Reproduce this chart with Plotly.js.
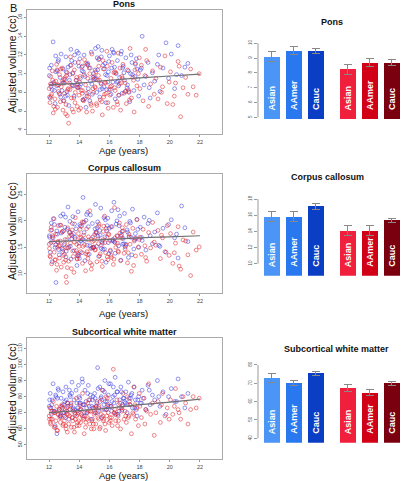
<!DOCTYPE html>
<html><head><meta charset="utf-8">
<script src="https://cdn.plot.ly/plotly-3.0.1.min.js"></script>
<style>html,body{margin:0;padding:0;background:#fff}#chart{width:401px;height:481px}</style>
</head><body><div id="chart"></div>
<script>
// ---------- scatter data (ages shared across panels) ----------
const blueAge = [12.02,12.08,12.15,12.21,12.27,12.33,12.4,12.46,12.52,12.6,12.67,12.73,12.8,12.86,12.93,12.99,
13.05,13.12,13.18,13.26,13.31,13.38,13.45,13.52,13.58,13.66,13.72,13.79,13.85,13.92,13.98,
14.04,14.11,14.19,14.25,14.32,14.38,14.45,14.53,14.6,14.66,14.74,14.8,14.87,14.95,
15.02,15.08,15.16,15.22,15.29,15.36,15.43,15.5,15.57,15.64,15.7,15.78,15.85,15.93,
16.0,16.07,16.15,16.23,16.3,16.38,16.45,16.53,16.61,16.68,16.76,16.84,16.92,
17.0,17.09,17.17,17.26,17.35,17.44,17.53,17.62,17.72,17.83,17.94,
18.05,18.17,18.3,18.42,18.56,18.7,18.85,
19.0,19.18,19.35,19.55,19.75,19.92,
20.1,20.32,20.55,20.78,21.0,21.2,
12.12,12.55,12.9,13.22,13.5,13.88,14.28,14.7,15.12,15.46,15.82,16.18,16.5,16.88,17.3,17.68,
12.04,12.36,12.63,12.97,13.09,13.41,13.62,13.95,14.08,14.35,14.56,14.83,15.05,15.25,15.53,15.74,15.96,16.11,16.34,16.57,16.8,17.05,17.4,17.78,
12.18,12.44,12.77,13.14,13.35,13.69,14.01,14.22,14.49,14.91,15.19,15.39,15.67,15.89,16.26,16.64,16.96,17.2,17.49,17.88,18.12,18.64,19.27,20.45];
const redAge = [12.01,12.06,12.11,12.17,12.22,12.28,12.34,12.39,12.45,12.5,12.56,12.62,12.69,12.75,12.81,12.87,12.92,12.97,12.14,12.64,
13.02,13.07,13.13,13.19,13.24,13.3,13.36,13.42,13.48,13.55,13.61,13.68,13.74,13.81,13.87,13.94,13.99,13.16,13.53,13.9,
14.03,14.09,14.16,14.22,14.29,14.35,14.42,14.49,14.56,14.63,14.7,14.77,14.84,14.91,14.97,14.2,14.58,14.88,
15.04,15.1,15.17,15.24,15.31,15.39,15.46,15.53,15.6,15.68,15.75,15.83,15.9,15.97,15.27,15.62,15.86,
16.03,16.1,16.18,16.26,16.34,16.42,16.5,16.58,16.66,16.74,16.82,16.9,16.97,16.38,16.7,
17.04,17.12,17.2,17.29,17.37,17.46,17.55,17.64,17.73,17.82,17.92,17.33,17.6,17.98,
18.02,18.12,18.23,18.35,18.47,18.6,18.73,18.86,18.97,18.4,
19.08,19.22,19.38,19.52,19.68,19.83,19.96,19.45,
20.05,20.2,20.38,20.55,20.72,20.88,20.3,20.62,
21.05,21.2,21.38,21.55,21.75,21.95,
12.03,12.24,12.42,12.58,12.78,12.95,13.04,13.21,13.39,13.57,13.72,13.85,14.05,14.25,14.44,14.61,14.8,14.99,15.07,15.29,15.5,15.71,15.92,16.14,16.36,16.6,16.86,17.08,
12.09,12.31,12.53,12.72,12.89,13.1,13.28,13.46,13.65,13.83,13.97,14.13,14.33,14.52,14.73,14.94,15.14,15.35,15.57,15.79,16.06,16.3,16.54,16.78,17.25,17.69];

const ponsBlue = [9.8,7.4,10.9,8.3,13.4,9.1,6.8,10.2,8.7,11.3,7.9,9.6,12.1,8.2,10.5,7.1,
9.4,11.8,8.1,10.7,6.6,9.9,12.6,8.8,10.1,7.6,11.2,9.3,12.4,8.5,10.8,
11.6,8.9,10.3,7.2,12.0,9.7,6.4,11.0,8.4,10.6,9.2,12.3,7.8,10.0,
9.5,12.7,8.0,10.4,11.5,7.5,9.0,12.5,10.9,8.6,11.1,6.9,9.8,10.2,
11.9,8.3,10.6,9.1,12.2,7.3,10.0,11.4,8.7,9.6,12.1,7.9,10.8,
9.3,11.7,8.5,10.3,7.0,12.0,9.9,8.2,11.0,10.5,7.6,
10.4,14.0,8.8,9.7,11.2,7.4,10.1,
9.2,11.0,8.1,10.6,13.3,9.5,
12.1,8.4,13.0,9.8,10.7,11.1,
8.6,10.3,9.0,7.7,11.4,8.9,10.2,7.1,9.4,11.8,8.3,12.6,9.1,10.6,8.0,9.7,
10.6,8.2,11.5,9.0,7.6,10.9,8.7,12.2,9.5,7.3,11.1,8.9,10.4,12.9,8.4,9.9,11.3,7.8,10.7,9.2,12.4,8.1,10.0,11.6,
8.9,11.9,7.5,10.2,9.3,12.0,8.6,10.8,7.9,9.6,11.7,8.3,10.5,9.1,12.3,7.7,10.1,8.8,11.2,9.4,10.6,8.5,12.0,9.9];
const ponsRed = [8.4,6.9,9.7,7.8,10.3,5.8,8.9,7.3,9.2,11.0,6.4,8.1,9.9,7.0,8.6,10.6,6.1,9.4,7.6,8.8,
7.9,9.6,6.7,10.1,8.3,4.7,9.0,11.8,7.4,8.7,5.9,10.4,8.0,9.3,6.5,11.2,7.7,9.8,6.2,8.5,
9.1,6.3,10.7,8.2,7.1,11.5,8.8,5.9,9.5,7.5,10.0,6.8,12.1,8.4,9.7,7.9,10.9,6.0,
8.6,10.2,6.6,9.3,11.6,7.2,8.9,5.6,10.5,7.8,9.0,12.4,6.9,8.3,9.8,7.5,10.8,
7.7,9.5,11.2,6.4,8.5,10.1,7.0,12.2,8.9,6.1,9.7,11.0,7.9,8.2,10.6,
9.0,6.8,10.4,8.1,12.7,7.4,9.6,5.9,11.1,8.7,10.0,7.2,9.3,11.7,
8.4,10.9,7.1,9.8,11.4,6.5,8.9,10.3,7.8,12.6,
9.5,7.3,10.7,8.6,11.9,6.8,9.1,8.0,
10.2,6.7,9.0,11.3,5.4,8.5,7.6,10.8,
9.6,7.8,10.5,8.6,7.7,10.0,
7.5,9.3,6.2,8.8,10.5,7.1,9.0,5.5,8.3,10.0,6.9,8.6,9.7,7.2,11.1,8.0,6.6,9.4,8.5,10.8,7.0,9.1,6.3,8.7,10.2,7.7,9.5,8.1,
8.9,6.5,10.4,7.8,9.2,5.7,8.4,10.9,7.4,9.6,6.1,8.2,9.9,7.6,10.6,8.0,6.8,9.3,11.4,7.9,8.6,10.1,6.7,9.0,8.3,10.4];

const ccBlue = [17.2,14.1,19.6,12.3,16.8,20.4,15.0,8.4,18.1,16.0,13.6,19.2,17.7,14.8,21.3,15.5,
18.8,13.2,16.4,22.6,15.1,19.9,12.8,17.3,20.8,14.4,16.9,18.5,11.6,21.7,15.8,
19.3,16.2,14.0,24.4,17.8,12.5,20.1,15.4,18.9,13.7,21.1,16.6,19.5,14.9,
17.4,23.1,15.2,19.8,13.3,18.2,22.4,16.1,14.6,20.6,17.0,12.2,19.1,15.9,
18.6,14.3,21.9,16.5,23.5,13.9,19.4,17.1,15.3,20.9,12.6,18.0,16.7,
21.4,15.6,18.3,13.1,19.9,16.9,22.2,14.7,17.6,20.3,15.0,
18.8,16.3,20.7,14.5,19.5,17.2,15.7,
17.9,21.5,15.2,18.6,14.1,19.3,
20.2,16.8,13.0,22.8,18.7,16.1,
15.9,17.5,14.2,18.4,16.6,13.5,19.7,15.3,17.9,14.8,18.1,16.3,20.0,15.6,17.0,16.4,
16.9,19.3,14.6,18.1,20.7,15.2,17.6,13.4,19.0,16.3,21.6,14.9,18.5,17.1,15.8,20.2,13.8,18.9,16.0,22.1,17.4,15.1,19.6,16.7,
18.3,15.5,20.9,14.3,17.8,19.4,12.9,16.5,21.2,15.0,18.7,17.3,14.7,20.5,16.2,19.1,15.7,17.9,13.6,18.4,16.9,20.1,15.4,17.5];
const ccRed = [15.6,13.4,18.2,11.9,16.9,20.4,14.1,12.6,17.5,10.7,15.0,19.1,13.0,16.2,11.3,17.9,14.6,12.2,18.8,15.3,
13.7,16.5,9.5,14.9,18.7,12.4,17.1,15.8,11.0,19.5,13.3,16.0,20.6,14.4,12.8,17.6,15.2,8.4,18.3,13.9,
16.8,14.2,19.0,12.0,17.3,15.5,10.6,18.5,13.6,16.4,21.9,14.8,11.7,17.0,15.1,19.8,12.9,16.1,
14.5,17.8,12.3,16.6,19.4,13.8,15.4,11.4,18.0,20.9,14.0,16.9,12.7,17.4,15.7,19.0,13.2,
16.3,13.5,18.9,11.8,22.5,15.0,17.2,14.3,19.6,12.5,16.7,18.1,13.9,15.9,17.7,
14.7,19.3,12.1,17.5,15.6,10.5,18.6,16.2,13.4,20.2,15.1,17.0,11.6,16.5,
16.9,13.7,18.4,15.3,12.4,17.8,14.9,19.7,16.0,13.1,
15.4,18.2,12.9,16.8,14.2,19.1,13.5,17.3,
17.6,12.0,15.8,18.9,10.9,16.4,14.0,11.5,
16.2,13.6,9.7,17.9,14.5,15.1,
14.8,17.2,12.7,16.1,19.2,13.5,15.7,11.2,17.9,14.3,16.6,12.9,18.4,15.2,13.8,17.0,10.9,16.3,14.6,19.0,12.4,15.9,17.6,13.1,16.8,14.1,18.7,15.4,
13.2,16.0,11.8,15.3,18.0,12.6,14.9,17.4,10.3,15.6,13.7,16.9,19.8,14.2,12.1,15.0,17.7,13.4,16.4,18.6,14.5,12.8,15.8,17.1,14.0,16.7];

const swmBlue = [74,82,69,78,88,71,62,80,57,85,72,68,79,74,83,70,
77,86,71,74,66,81,75,89,72,78,69,84,76,73,80,
79,72,91,75,68,84,77,70,87,74,81,66,78,73,
82,70,76,98,73,86,79,67,84,75,90,72,77,81,
74,88,71,80,76,92,69,83,75,78,86,72,79,
77,83,70,89,75,81,73,86,78,68,80,
76,84,79,72,87,75,81,
78,90,74,83,69,80,
85,77,91,80,73,82,
73,79,70,76,82,71,75,78,74,80,72,77,83,75,79,73,
78,71,84,75,67,80,73,87,76,70,82,74,79,85,72,77,88,74,81,69,83,76,79,72,
75,81,68,78,84,72,76,89,73,80,70,77,83,74,86,71,79,75,82,78,76,84,80,77];
const swmRed = [68,73,63,71,66,77,61,70,65,74,59,69,72,64,67,75,62,70,66,71,
65,72,60,69,76,63,68,74,61,67,71,58,66,79,64,70,62,73,67,69,
72,64,69,82,66,75,61,70,67,78,63,71,65,73,60,68,76,66,
70,63,77,67,74,61,69,84,65,72,59,68,75,64,71,66,79,
67,74,62,97,70,65,78,68,73,60,71,82,66,69,76,
71,64,80,68,75,57,70,86,66,73,62,77,69,82,
74,67,79,63,71,88,69,76,56,72,
70,77,64,82,68,73,66,75,
78,69,85,72,66,80,74,70,
76,63,72,80,73,79,
66,71,61,69,74,63,68,58,72,65,70,62,75,67,64,71,60,69,73,66,78,63,70,67,72,65,74,68,
64,70,59,67,73,62,69,76,61,68,65,72,57,66,71,63,74,60,68,80,65,70,62,73,67,75];

// fitted trend lines
const fitAge = [12,14,16,18,20,22];
const ponsFit = [8.8,9.0,9.3,9.55,9.75,9.95];
const ccFit = [16.1,16.3,16.5,16.8,17.0,17.2];
const swmFit = [70.1,71.3,72.9,75.0,76.6,78.5];

// ---------- bar data ----------
const barLabels = ['Asian','AAmer','Cauc','Asian','AAmer','Cauc'];
const barColors = ['#4a95f5','#2a78ef','#0a3ec4','#f01f3b','#d20017','#7a0010'];
const ponsMeans = [9.09,9.5,9.5,8.25,8.7,8.7];
const ponsErr = [0.33,0.28,0.17,0.33,0.3,0.18];
const ccMeans = [15.8,15.8,17.1,14.1,14.1,15.35];
const ccErr = [0.62,0.62,0.35,0.64,0.6,0.3];
const swmMeans = [72.9,70.2,75.45,67.6,64.9,70.0];
const swmErr = [2.2,1.6,1.0,2.0,1.55,1.1];

const F = 'Liberation Sans, Arial, Helvetica, sans-serif';
const W = 401, H = 481;
const px = v => v / W, py = v => 1 - v / H;
const groupGap = 0.4545;
const barPos = barLabels.map((_, i) => i + (i >= 3 ? groupGap : 0));

const ponsBarRange = [4.885, 10.2], ccBarRange = [8.52, 18.5], swmBarRange = [37.6, 82];

const blueC = 'rgba(60,60,225,0.72)', redC = 'rgba(225,35,45,0.72)';
function pts(x, y, c, xa, ya) {
  return {type:'scatter', mode:'markers', x, y, xaxis:xa, yaxis:ya, hoverinfo:'skip',
    marker:{symbol:'circle-open', size:3.8, color:c, line:{width:0.75, color:c}}};
}
function fit(y, xa, ya) {
  return {type:'scatter', mode:'lines', x:fitAge, y, xaxis:xa, yaxis:ya, hoverinfo:'skip',
    line:{color:'#707070', width:1.2, shape:'spline'}};
}
function bars(y, err, xa, ya) {
  return {type:'bar', x:barPos, y, width:0.727, xaxis:xa, yaxis:ya, hoverinfo:'skip',
    marker:{color:barColors, line:{width:0}},
    error_y:{type:'data', array:err, visible:true, color:'#888', thickness:1, width:4}};
}

const data = [
  pts(blueAge, ponsBlue, blueC, 'x', 'y'), pts(redAge, ponsRed, redC, 'x', 'y'), fit(ponsFit, 'x', 'y'),
  pts(blueAge, ccBlue, blueC, 'x2', 'y2'), pts(redAge, ccRed, redC, 'x2', 'y2'), fit(ccFit, 'x2', 'y2'),
  pts(blueAge, swmBlue, blueC, 'x3', 'y3'), pts(redAge, swmRed, redC, 'x3', 'y3'), fit(swmFit, 'x3', 'y3'),
  bars(ponsMeans, ponsErr, 'x4', 'y4'), bars(ccMeans, ccErr, 'x5', 'y5'), bars(swmMeans, swmErr, 'x6', 'y6')
];

const sxDom = [px(27), px(222)];
function sx(anchor) {
  return {domain:sxDom, anchor, range:[10.54,23.46], tickvals:[12,14,16,18,20,22],
    ticks:'outside', ticklen:2, tickcolor:'#999', tickfont:{size:5.5, color:'#444', family:F},
    showline:true, mirror:true, linecolor:'#aaa', linewidth:1, showgrid:false, zeroline:false};
}
function sy(anchor, dom, range, tickvals) {
  return {domain:dom, anchor, range, tickvals, tickangle:-90,
    ticks:'outside', ticklen:2, tickcolor:'#999', tickfont:{size:5.5, color:'#444', family:F},
    showline:true, mirror:true, linecolor:'#aaa', linewidth:1, showgrid:false, zeroline:false};
}
const bxDom = [px(258), 1];
function bx(anchor) {
  return {domain:bxDom, anchor, range:[-0.636,5.864], visible:false, showgrid:false, zeroline:false};
}
function by(anchor, dom, range, tickvals) {
  return {domain:dom, anchor, range, tickvals, tickangle:-90,
    ticks:'outside', ticklen:3, tickcolor:'#999', tickfont:{size:4.5, color:'#555', family:F},
    showline:false, showgrid:false, zeroline:false};
}

function ann(text, x, y, size, opts) {
  return Object.assign({text, x, y, xref:'paper', yref:'paper', showarrow:false,
    xanchor:'center', yanchor:'middle', font:{family:F, size, color:'#111'}}, opts || {});
}
const bold = s => '<b>' + s + '</b>';
function barText(xa, ya, range) {
  return barLabels.map((t, i) => ({text:bold(t), x:barPos[i], y:range[0], xref:xa, yref:ya,
    showarrow:false, textangle:-90, xanchor:'center', yanchor:'bottom', yshift:7,
    font:{family:F, size:9, color:'#ffffff'}}));
}

const layout = {
  width:W, height:H, margin:{l:0, r:0, t:0, b:0}, paper_bgcolor:'#fff', plot_bgcolor:'rgba(0,0,0,0)',
  showlegend:false, bargap:0,
  xaxis:sx('y'), yaxis:sy('x', [py(134), py(10)], [3.55,16.81], [4,6,8,10,12,14,16]),
  xaxis2:sx('y2'), yaxis2:sy('x2', [py(293), py(174)], [6.42,28.82], [10,15,20,25]),
  xaxis3:sx('y3'), yaxis3:sy('x3', [py(459), py(338)], [41.3,116.4], [50,60,70,80,90,100,110]),
  xaxis4:bx('y4'), yaxis4:by('x4', [py(119), py(40.3)], ponsBarRange, [5,6,7,8,9,10]),
  xaxis5:bx('y5'), yaxis5:by('x5', [py(275.7), py(195)], ccBarRange, [10,12,14,16,18]),
  xaxis6:bx('y6'), yaxis6:by('x6', [py(442.7), py(361.3)], swmBarRange, [40,50,60,70,80]),
  shapes:[
    {type:'line', xref:'paper', yref:'y4', x0:px(258), x1:px(258), y0:5, y1:10, line:{color:'#999', width:1}},
    {type:'line', xref:'paper', yref:'y5', x0:px(258), x1:px(258), y0:10, y1:18, line:{color:'#999', width:1}},
    {type:'line', xref:'paper', yref:'y6', x0:px(258), x1:px(258), y0:40, y1:80, line:{color:'#999', width:1}}
  ],
  annotations:[
    ann('B', px(14), py(8.5), 11),
    ann(bold('Pons'), px(124.5), py(4), 9),
    ann(bold('Corpus callosum'), px(124.5), py(168), 9),
    ann(bold('Subcortical white matter'), px(124.5), py(332), 9),
    ann('Adjusted volume (cc)', px(12), py(64), 10.5, {textangle:-90}),
    ann('Adjusted volume (cc)', px(12), py(231), 10.5, {textangle:-90}),
    ann('Adjusted volume (cc)', px(12), py(392), 10.5, {textangle:-90}),
    ann('Age (years)', px(123), py(150), 9.5),
    ann('Age (years)', px(123), py(313), 9.5),
    ann('Age (years)', px(123), py(475.5), 9.5),
    ann(bold('Pons'), px(332), py(22), 9),
    ann(bold('Corpus callosum'), px(327), py(177), 9),
    ann(bold('Subcortical white matter'), px(336), py(349), 9)
  ].concat(barText('x4', 'y4', ponsBarRange), barText('x5', 'y5', ccBarRange), barText('x6', 'y6', swmBarRange))
};

Plotly.newPlot('chart', data, layout, {staticPlot:true, displayModeBar:false});
</script></body></html>
